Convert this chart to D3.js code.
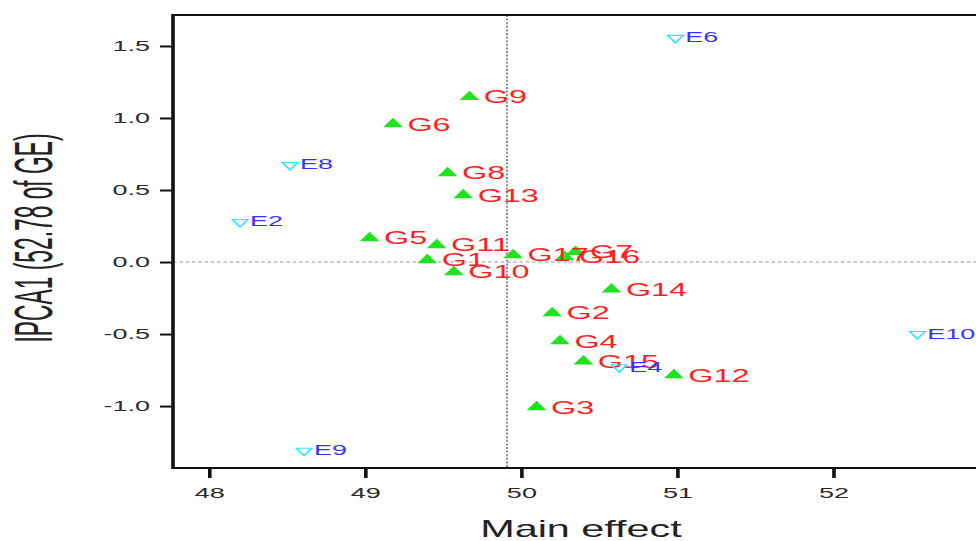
<!DOCTYPE html>
<html>
<head>
<meta charset="utf-8">
<script src="https://cdn.jsdelivr.net/npm/d3@7"></script>
<style>
  html, body { margin: 0; padding: 0; background: #fff; overflow: hidden; }
  svg { display: block; }
  text { font-family: "Liberation Sans", Arial, Helvetica, sans-serif; }
</style>
</head>
<body>
<div id="grafico"></div>
<script>
// genotypes (G) and environments (E): main effect vs IPCA1
const genotipos = ["G1", "G2", "G3", "G4", "G5", "G6", "G7", "G8", "G9",
  "G10", "G11", "G12", "G13", "G14", "G15", "G16", "G17"];
const genoMain = [49.40, 50.20, 50.10, 50.25, 49.03, 49.18, 50.35, 49.53, 49.67,
  49.57, 49.46, 50.98, 49.63, 50.58, 50.40, 50.28, 49.95];
const genoIPCA = [0.014, -0.354, -1.007, -0.549, 0.167, 0.958, 0.07, 0.618, 1.146,
  -0.069, 0.118, -0.785, 0.465, -0.19, -0.69, 0.035, 0.049];

const ambientes = ["E2", "E4", "E6", "E8", "E9", "E10"];
const ambMain = [48.20, 50.63, 50.99, 48.52, 48.61, 52.54];
const ambIPCA = [0.278, -0.73, 1.556, 0.674, -1.31, -0.50];

const xTicks = [48, 49, 50, 51, 52];
const yTicks = [-1.0, -0.5, 0.0, 0.5, 1.0, 1.5];
const mediaGeneral = 49.91;

const width = 976;
const height = 541;
const S = 1.8; // the picture is stretched horizontally
const vbW = width / S;

const x = d3.scaleLinear().domain([47.77, 52.98]).range([173 / S, 986 / S]);
const y = d3.scaleLinear().domain([-1.43, 1.715]).range([468, 15]);

const svg = d3
  .select("#grafico")
  .append("svg")
  .attr("width", width)
  .attr("height", height)
  .attr("viewBox", `0 0 ${vbW} ${height}`)
  .attr("preserveAspectRatio", "none");

const fmt = (d) => d3.format(".1f")(d).replace("−", "-");

// reference lines
svg.append("line")
  .attr("x1", x(47.77)).attr("x2", x(52.98))
  .attr("y1", y(0)).attr("y2", y(0))
  .attr("stroke", "#999").attr("stroke-width", 1)
  .attr("stroke-dasharray", "2,1.5");

svg.append("line")
  .attr("x1", x(mediaGeneral)).attr("x2", x(mediaGeneral))
  .attr("y1", y(1.715)).attr("y2", y(-1.43))
  .attr("stroke", "#888").attr("stroke-width", 1.1)
  .attr("stroke-dasharray", "2,1.6");

// axes
const ejeY = svg.append("g")
  .attr("transform", `translate(${x(47.77)},0)`)
  .call(d3.axisLeft(y).tickValues(yTicks).tickFormat(fmt).tickSize(13 / S).tickPadding(10 / S));
const ejeX = svg.append("g")
  .attr("transform", `translate(0,${y(-1.43)})`)
  .call(d3.axisBottom(x).tickValues(xTicks).tickFormat(d3.format("d")).tickSize(10).tickPadding(9));

[ejeY, ejeX].forEach((g) => {
  g.select(".domain").remove();
  g.selectAll(".tick line").attr("stroke", "#111").attr("stroke-width", 2);
  g.selectAll(".tick text")
    .attr("fill", "#2a2a2a")
    .style("font-size", "15px")
    .style("font-family", "'Liberation Sans', Arial, sans-serif");
});

// frame
svg.append("rect")
  .attr("x", x(47.77)).attr("y", y(1.715))
  .attr("width", x(52.98) - x(47.77))
  .attr("height", y(-1.43) - y(1.715))
  .attr("fill", "none").attr("stroke", "#111").attr("stroke-width", 2);

// genotypes
const geno = genotipos.map((g, i) => ({ nombre: g, me: genoMain[i], pc: genoIPCA[i] }));
const amb = ambientes.map((e, i) => ({ nombre: e, me: ambMain[i], pc: ambIPCA[i] }));

const triArriba = d3.symbol().type(d3.symbolTriangle).size(52);
const triAbajo = d3.symbol().type(d3.symbolTriangle).size(32);

svg.append("g").selectAll("path")
  .data(geno).join("path")
  .attr("d", triArriba)
  .attr("transform", (d) => `translate(${x(d.me)},${y(d.pc)})`)
  .attr("fill", "#1de41d");

svg.append("g").selectAll("text")
  .data(geno).join("text")
  .attr("x", (d) => x(d.me) + 8)
  .attr("y", (d) => y(d.pc))
  .attr("dy", "0.36em")
  .attr("fill", "#ff1f1f")
  .style("font-size", "18px")
  .text((d) => d.nombre);

// environments
svg.append("g").selectAll("path")
  .data(amb).join("path")
  .attr("d", triAbajo)
  .attr("transform", (d) => `translate(${x(d.me)},${y(d.pc)}) rotate(180)`)
  .attr("fill", "none")
  .attr("stroke", "#22eaf5")
  .attr("stroke-width", 1.1);

svg.append("g").selectAll("text")
  .data(amb).join("text")
  .attr("x", (d) => x(d.me) + 5.5)
  .attr("y", (d) => y(d.pc))
  .attr("dy", "0.3em")
  .attr("fill", "#3434ff")
  .style("font-size", "15px")
  .text((d) => d.nombre);

// axis titles
svg.append("text")
  .attr("x", 581 / S)
  .attr("y", 537)
  .attr("text-anchor", "middle")
  .attr("fill", "#222")
  .style("font-size", "23px")
  .text("Main effect");

svg.append("text")
  .attr("transform", `translate(${52 / S},${238}) rotate(-90) scale(0.76,1)`)
  .attr("text-anchor", "middle")
  .attr("fill", "#222")
  .style("font-size", "30px")
  .text("IPCA1 (52.78 of GE)");
</script>
</body>
</html>
